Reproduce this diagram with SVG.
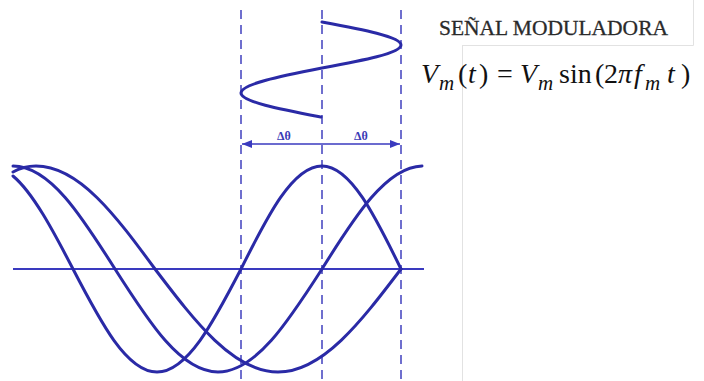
<svg xmlns="http://www.w3.org/2000/svg" width="704" height="381" viewBox="0 0 704 381">
<style>
.wave{fill:none;stroke:#2a2aa6;stroke-width:3;stroke-linecap:round;stroke-linejoin:round}
.dash{fill:none;stroke:#4c4cc2;stroke-width:1.6;stroke-dasharray:9 6}
.axis{fill:none;stroke:#3a3abf;stroke-width:2}
.frame{fill:none;stroke:#e2e2e2;stroke-width:1}
.dt{font-family:"Liberation Serif",serif;font-size:12px;font-weight:bold;fill:#3b3bb5;text-anchor:middle}
.eq{font-family:"Liberation Serif",serif;font-size:28px;fill:#111}
.it{font-style:italic}
.sub{font-style:italic;font-size:21px}
</style>
<defs>
<marker id="ah" viewBox="0 0 10 8" refX="10" refY="4" markerWidth="10" markerHeight="8" markerUnits="userSpaceOnUse" orient="auto-start-reverse">
<path d="M0,0 L10,4 L0,8 Z" fill="#3a3abf"/>
</marker>
</defs>
<g id="frame">
<path class="frame" d="M462.5,45 V381 M462.5,45.5 H693.5 V0"/>
</g>
<g id="guides">
<line class="dash" x1="241" y1="10" x2="241" y2="381"/>
<line class="dash" x1="322" y1="10" x2="322" y2="381"/>
<line class="dash" x1="401" y1="10" x2="401" y2="381"/>
</g>
<g id="modulating-signal">
<path class="wave" d="M322,22 C362.5,29.5 401,36.7 401,45 C401,53.3 362.5,60.5 322,68 C280.5,76.2 241,84 241,93 C241,101.7 280.5,109.2 321,117"/>
</g>
<g id="connectors">
<line x1="242" y1="144" x2="400" y2="144" stroke="#3a3abf" stroke-width="1.6" marker-start="url(#ah)" marker-end="url(#ah)"/>
</g>
<g id="delta-labels">
<text class="dt" x="284" y="140">Δθ</text>
<text class="dt" x="361" y="140">Δθ</text>
</g>
<g id="axis">
<line class="axis" x1="13" y1="269" x2="424" y2="269"/>
</g>
<g id="carrier-waves">
<path id="wave1" class="wave" d="M13,176 C33,192.7 53,230.5 73,269 C100.4,321.8 126.6,372 157,372 C187.4,372 213.6,321.8 241,269 C267.4,216.2 292.7,166 322,166 C350.6,166 375.2,216.2 401,269"/>
<path id="wave2" class="wave" d="M13,166 C49.9,166 81.7,216.2 115,269 C148.6,321.8 180.7,372 218,372 C255.6,372 288.1,321.8 322,269 C354.9,216.2 386.4,167 422,166"/>
<path id="wave3" class="wave" d="M13,172 C20,168 28,166 36,166 C79.1,166 116.2,216.2 155,269 C195.1,321.8 233.5,372 278,372 C322.5,372 360.9,321.8 401,269"/>
</g>
<g id="title">
<text x="439" y="35" font-family="Liberation Serif,serif" font-size="22" fill="#2a2a2a" stroke="#2a2a2a" stroke-width="0.3" textLength="229" lengthAdjust="spacingAndGlyphs">SEÑAL MODULADORA</text>
</g>
<g id="formula">
<text class="eq" y="83"><tspan class="it" x="421">V</tspan><tspan class="sub" x="439" y="90">m</tspan><tspan x="458" y="83">(</tspan><tspan class="it" x="468">t</tspan><tspan x="479">)</tspan><tspan x="497">=</tspan><tspan class="it" x="520">V</tspan><tspan class="sub" x="538" y="90">m</tspan><tspan x="559" y="83">sin</tspan><tspan x="595">(</tspan><tspan x="604">2</tspan><tspan class="it" x="618">π</tspan><tspan class="it" x="634">f</tspan><tspan class="sub" x="645" y="90">m</tspan><tspan class="it" x="667" y="83">t</tspan><tspan x="681">)</tspan></text>
</g>
</svg>
